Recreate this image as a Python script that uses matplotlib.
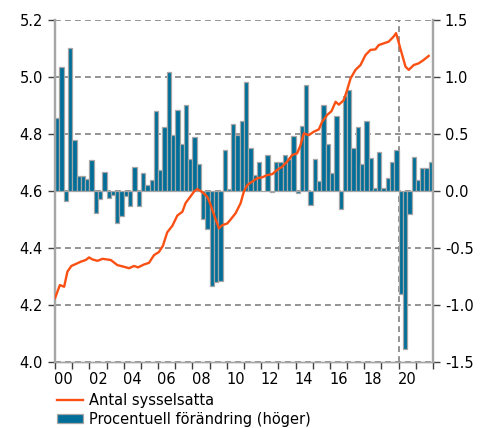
import matplotlib
matplotlib.use('Agg')
import matplotlib.pyplot as plt
import numpy as np
from matplotlib.ticker import MultipleLocator, FixedLocator, FixedFormatter

# quarterly percent change (right axis), 2000Q1 - 2021Q4
change = [0.64, 1.085, -0.09, 1.25,
          0.45, 0.135, 0.135, 0.105,
          0.27, -0.19, -0.07, 0.17,
          -0.06, -0.035, -0.28, -0.22,
          -0.04, -0.13, 0.21, -0.13,
          0.155, 0.053, 0.10, 0.70,
          0.18, 0.565, 1.04, 0.49,
          0.71, 0.41, 0.755, 0.28,
          0.476, 0.237, -0.25, -0.33,
          -0.83, -0.795, -0.79, 0.36,
          0.02, 0.59, 0.49, 0.61,
          0.955, 0.38, 0.14, 0.25,
          0.0, 0.32, -0.01, 0.25,
          0.25, 0.32, 0.28, 0.485,
          -0.02, 0.57, 0.93, -0.12,
          0.28, 0.088, 0.755, 0.41,
          0.16, 0.66, -0.16, 0.83,
          0.89, 0.38, 0.565, 0.24,
          0.61, 0.29, 0.03, 0.345,
          0.025, 0.11, 0.25, 0.36,
          -0.90, -1.39, -0.20, 0.30,
          0.10, 0.20, 0.20, 0.25]
start_year = 2000

# employed persons, millions (left axis), read as (decimal year, value)
emp_t = [2000.0, 2000.28, 2000.53, 2000.72, 2000.95, 2001.21, 2001.50, 2001.79,
         2001.98, 2002.17, 2002.47, 2002.76, 2003.24, 2003.63, 2004.02, 2004.31,
         2004.60, 2004.83, 2005.17, 2005.47, 2005.76, 2006.05, 2006.28, 2006.53,
         2006.83, 2007.12, 2007.41, 2007.60, 2007.80, 2008.09, 2008.28, 2008.57,
         2008.86, 2009.06, 2009.29, 2009.54, 2009.73, 2010.02, 2010.22, 2010.51,
         2010.80, 2010.99, 2011.19, 2011.48, 2011.77, 2012.06, 2012.35, 2012.64,
         2012.93, 2013.22, 2013.51, 2013.80, 2014.09, 2014.29, 2014.48, 2014.77,
         2015.06, 2015.35, 2015.55, 2015.84, 2016.09, 2016.33, 2016.52, 2016.81,
         2017.0, 2017.20, 2017.49, 2017.78, 2018.07, 2018.36, 2018.65, 2018.84,
         2019.13, 2019.42, 2019.71, 2019.85, 2020.10, 2020.40, 2020.59, 2020.88,
         2021.17, 2021.46, 2021.75]
emp = [4.224, 4.27, 4.264, 4.317, 4.337, 4.344, 4.352, 4.358,
       4.367, 4.36, 4.355, 4.362, 4.358, 4.34, 4.334, 4.329,
       4.337, 4.332, 4.342, 4.348, 4.375, 4.386, 4.408, 4.455,
       4.478, 4.514, 4.527, 4.558, 4.574, 4.598, 4.607, 4.596,
       4.58, 4.551, 4.51, 4.469, 4.48, 4.486, 4.5, 4.522,
       4.557, 4.598, 4.621, 4.633, 4.645, 4.648, 4.656, 4.659,
       4.674, 4.685, 4.703, 4.726, 4.732, 4.761, 4.802, 4.796,
       4.808, 4.816, 4.843, 4.867, 4.88, 4.913, 4.903, 4.919,
       4.954, 4.995, 5.025, 5.042, 5.077, 5.095, 5.097, 5.112,
       5.118, 5.124, 5.142, 5.154, 5.1, 5.036, 5.025, 5.042,
       5.048, 5.06, 5.074]

year_labels = ['00', '02', '04', '06', '08', '10', '12', '14', '16', '18', '20']

line_col = '#FA5014'
bar_col = '#006E98'
grid_col = '#808080'
spine_col = '#A6A6A6'

plt.rcParams['font.family'] = 'DejaVu Sans'
plt.rcParams['font.size'] = 10

fig = plt.figure(figsize=(4.89, 4.28), dpi=100)
ax = fig.add_axes([0.1115, 0.1542, 0.774, 0.7991])
ax2 = ax.twinx()

qx = start_year + np.arange(len(change)) / 4
ax2.bar(qx, change, width=0.25, align='edge', color=bar_col,
        edgecolor=spine_col, linewidth=0.9, zorder=2,
        label='Procentuell förändring (höger)')
ax2.set_ylim(-1.5, 1.5)
ax2.yaxis.set_major_locator(MultipleLocator(0.5))
ax2.set_axisbelow(True)
ax2.grid(axis='y', color=grid_col, linestyle=(0, (3.5, 2.5)), linewidth=1.2, zorder=0)
ax2.axvline(2020, color=grid_col, linestyle=(0, (3.5, 2.5)), linewidth=1.2, zorder=1)

ax.plot(emp_t, emp, color=line_col, linewidth=1.7, label='Antal sysselsatta', zorder=3)
ax.set_ylim(4.0, 5.2)
ax.yaxis.set_major_locator(MultipleLocator(0.2))
ax.yaxis.set_major_formatter(plt.FormatStrFormatter('%.1f'))
ax2.yaxis.set_major_formatter(plt.FormatStrFormatter('%.1f'))
ax.set_xlim(1999.97, 2022.0)

ax.set_zorder(ax2.get_zorder() + 1)
ax.patch.set_visible(False)

# x ticks: one per year, labels every second year centred in the year
ax.xaxis.set_major_locator(FixedLocator(np.arange(2000, 2023)))
ax.xaxis.set_major_formatter(FixedFormatter([''] * 23))
ax.xaxis.set_minor_locator(FixedLocator(np.arange(2000, 2021, 2) + 0.5))
ax.xaxis.set_minor_formatter(FixedFormatter(year_labels))
ax.tick_params(axis='x', which='major', length=5, width=1, color='#404040')
ax.tick_params(axis='x', which='minor', length=0, pad=7, labelsize=10.5)
ax.tick_params(axis='y', length=5, width=1, color='#404040', labelsize=10.5)
ax2.tick_params(axis='y', length=5, width=1, color='#404040', labelsize=10.5)

for a in (ax, ax2):
    a.spines['top'].set_visible(False)
    a.spines['left'].set_color(spine_col)
    a.spines['left'].set_linewidth(1.6)
    a.spines['right'].set_color(spine_col)
    a.spines['right'].set_linewidth(1.6)
    a.spines['bottom'].set_color(spine_col)
    a.spines['bottom'].set_linewidth(1.0)

h1, l1 = ax.get_legend_handles_labels()
h2, l2 = ax2.get_legend_handles_labels()
fig.legend(h1 + h2, l1 + l2, loc='upper left', bbox_to_anchor=(0.101, 0.098),
           frameon=False, borderpad=0, handlelength=1.8, handleheight=0.6,
           handletextpad=0.45, labelspacing=0.25, fontsize=10.5)

fig.savefig('out.png', dpi=100)
